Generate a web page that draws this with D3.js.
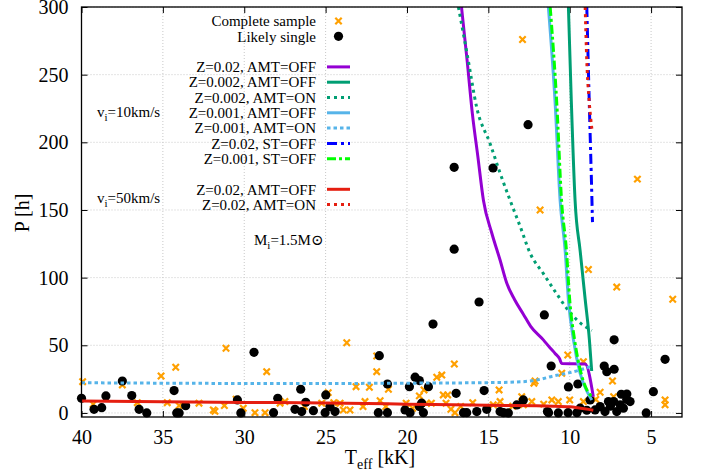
<!DOCTYPE html>
<html><head><meta charset="utf-8">
<script src="https://cdn.jsdelivr.net/npm/d3@7"></script>
<style>html,body{margin:0;padding:0;background:#fff}svg{display:block}text{font-family:"Liberation Serif","DejaVu Serif",serif !important;fill:#000}</style>
</head><body><svg id="c" width="706" height="472"></svg>
<script>
// ---- data ----
const xTicks = [40, 35, 30, 25, 20, 15, 10, 5];
const yTicks = [0, 50, 100, 150, 200, 250, 300];

// Complete sample (orange crosses): Teff [kK], P [h]
const completeT = [12.9,5.84,11.82,8.85,7.11,3.67,10.12,10.49,12.13,12.2,14.34,7.37,8.13,11.1,10.7,10.0,9.16,4.14,4.14,12.33,12.95,12.85,14.28,14.7,7.3,9.16,8.4,13.5,11.6,
  39.93,39.28,37.49,36.57,35.11,34.21,34.73,34.0,32.78,31.9,31.8,31.22,31.12,30.5,30.06,29.34,28.72,28.62,27.8,27.5,26.3,25.24,24.84,24.5,24.11,23.91,23.7,23.5,23.13,22.7,22.58,22.31,21.86,21.86,21.65,21.3,21.14,20.05,19.65,19.24,18.95,18.8,18.5,18.17,17.86,17.77,17.6,17.5,17.3,17.09,17.05,15.96,16.7];
const completeP = [276,172.8,150,106,93,84,42.8,29.3,23.6,22,17,23.6,15.3,9.6,8.4,9.6,8.4,9.6,6,8.4,12,6,8.4,6,12,37.9,10,5,6.5,
  23.1,6.4,20.7,7.6,27.3,33.8,7.6,5.4,7.2,2.2,1.2,5.4,47.8,10.1,3.5,0.2,0.2,30.5,7.2,8.4,4.7,7.2,15,7.6,7.2,2.2,51.9,2.2,19.4,4.7,8.4,19,42.1,30.5,9,4.7,17.5,7.2,3.5,12.6,17,7.2,7.2,26.4,28,13.3,7.2,13.3,2.7,36.2,0.2,7.6,4.7];

// Likely single (black dots)
const singleT = [12.56,14.71,17.1,17.1,15.57,18.4,11.56,7.27,4.14,11.14,7.88,7.72,7.27,10.08,9.5,15.26,4.86,
  6.83,6.49,6.29,7.3,7.62,8.13,8.75,12.85,14.07,13.77,11.3,10.7,10.1,15.1,5.3,7.83,7.11,6.7,8.44,8.95,9.56,9.36,13.25,14.28,11.37,7.5,6.9,6.5,
  40,39.23,38.76,38.5,37.49,36.91,36.46,35.99,34.31,34.15,34.0,33.6,30.42,30.21,29.4,28.2,27.94,26.88,26.53,26.47,26.22,25.75,24.99,25.03,24.73,24.42,21.7,21.76,21.2,21.2,20.12,19.81,19.85,19.5,19.24,19.24,19.1,18.99,18.68,16.98,16.53,16.33,15.71];
const singleP = [213,181,181.5,121,82,65.7,72.4,54,39.6,34.7,34.7,30.5,32.3,19.2,21.4,16.5,15.7,
  13.8,14,8.4,8.4,8.4,4.7,9.6,9.6,0.2,0,0.2,0,0.2,2.7,0,1,1,3.5,2.2,2,0.2,3.5,5.9,1,1,5,6,10,
  10.8,2.7,3.9,12.6,23.6,12.8,2.7,0,16.5,0,0,5.4,9.6,0,44.8,0.2,10.8,2.7,17.5,1,7.9,1.7,13.3,0.2,4.7,1,42.3,0.2,0.2,21.4,2.2,0.2,19.4,26.4,23.9,4.7,7.2,0.2,19.4,14.5,0.2,0.2,1];

// Model tracks
const z002offT = [16.65,16.3,15.98,15.65,15.3,14.79,14.28,13.87,13.4,12.85,12.4,11.62,11.2,10.9,10.62,10.49,9.05,8.55];
const z002offP = [300,260,221,190,157,133,113,96,84,73,64,54,48,44,40,36.5,36.2,12];
const z0002offT = [10.08,9.9,9.67,9.36,9.05,8.79,8.65];
const z0002offP = [300,230,157,120,84,54,31];
const z0002onT = [16.84,16.3,15.7,14.89,14.3,13.66,13.05,12.43,11.62,10.8,9.97,9.3,8.64];
const z0002onP = [300,265,225,199,178,157,138,118,103,88,74,66,61];
const z0001offT = [11.31,10.9,10.59,10.28,10.08,9.77,9.36,8.9,8.64];
const z0001offP = [300,230,157,120,83.5,54,29.3,15,9.6];
const z0001onT = [40,35,30,25,20,15,13,12,11,10,9.36,8.75];
const z0001onP = [22.3,22,21.8,21.8,22,22.4,23,24.4,27.3,29.8,31.8,34.2];
const z002stT = [8.95,8.8,8.64,8.6];
const z002stP = [300,230,160,141];
const z0001stT = [11.2,10.8,10.5,10.2,10.0,9.7,9.3,8.9,8.62];
const z0001stP = [300,230,157,120,83.5,54,29.3,16,12];
const v50offT = [40,30,25,20,15,11,10,9.5,8.55];
const v50offP = [8.9,7.8,7.4,6.5,5.6,5,4.5,3.8,2];
const v50onT = [9.05,8.95,8.8,8.64];
const v50onP = [300,260,230,210];

const legendLabels = ["Z=0.02, AMT=OFF","Z=0.002, AMT=OFF","Z=0.002, AMT=ON","Z=0.001, AMT=OFF","Z=0.001, AMT=ON","Z=0.02, ST=OFF","Z=0.001, ST=OFF","Z=0.02, AMT=OFF","Z=0.02, AMT=ON"];

// ---- drawing ----
const svg = d3.select("#c");
const L = 81.5, R = 682, T = 7, B = 417;
const x = d3.scaleLinear().domain([40, 3.1]).range([L, R]);
const y = d3.scaleLinear().domain([-3, 300]).range([B, T]);

// grid
const grid = svg.append("g").attr("stroke", "#c8c8c8").attr("stroke-width", 1).attr("stroke-dasharray", "1,2");
xTicks.forEach(t => grid.append("line").attr("x1", x(t)).attr("x2", x(t)).attr("y1", T).attr("y2", B));
yTicks.forEach(t => grid.append("line").attr("x1", L).attr("x2", R).attr("y1", y(t)).attr("y2", y(t)));

// axes with mirrored inward ticks
const ax = svg.append("g");
ax.append("g").attr("transform", `translate(0,${B})`).call(d3.axisBottom(x).tickValues(xTicks).tickSize(-6).tickPadding(11).tickFormat(d3.format("d")))
  .call(g => { g.select(".domain").remove(); g.attr("font-family", null).attr("font-size", null); g.selectAll("text").style("font-size", "20px").attr("dy", "0.8em"); });
ax.append("g").attr("transform", `translate(0,${T})`).call(d3.axisTop(x).tickValues(xTicks).tickSize(-6).tickFormat(""))
  .call(g => g.select(".domain").remove());
ax.append("g").attr("transform", `translate(${L},0)`).call(d3.axisLeft(y).tickValues(yTicks).tickSize(-6).tickPadding(13).tickFormat(d3.format("d")))
  .call(g => { g.select(".domain").remove(); g.attr("font-family", null).attr("font-size", null); g.selectAll("text").style("font-size", "20px"); });
ax.append("g").attr("transform", `translate(${R},0)`).call(d3.axisRight(y).tickValues(yTicks).tickSize(-6).tickFormat(""))
  .call(g => g.select(".domain").remove());
ax.selectAll(".tick line").attr("stroke", "#000");

// points
const cross = (g, cx, cy, s) => g.append("path").attr("d", `M${cx-s},${cy-s}L${cx+s},${cy+s}M${cx-s},${cy+s}L${cx+s},${cy-s}`);
const gc = svg.append("g").attr("stroke", "#ffa000").attr("stroke-width", 2.2).attr("fill", "none");
completeT.forEach((t, i) => cross(gc, x(t), y(completeP[i]), 3.2));
const gs = svg.append("g");
singleT.forEach((t, i) => gs.append("circle").attr("cx", x(t)).attr("cy", y(singleP[i])).attr("r", 4.6).attr("fill", "#000"));

// tracks
const styles = [
  {T: z002offT, P: z002offP, c: "#9400d3", d: null},
  {T: z0002offT, P: z0002offP, c: "#009e73", d: null},
  {T: z0002onT, P: z0002onP, c: "#009e73", d: "3,4"},
  {T: z0001offT, P: z0001offP, c: "#56b4e9", d: null},
  {T: z0001onT, P: z0001onP, c: "#56b4e9", d: "3.5,3"},
  {T: z002stT, P: z002stP, c: "#0000ff", d: "10,4,3,4"},
  {T: z0001stT, P: z0001stP, c: "#00ff00", d: "9,3,3,3"},
  {T: v50offT, P: v50offP, c: "#e51e10", d: null},
  {T: v50onT, P: v50onP, c: "#e51e10", d: "3,4"}
];
const line = d3.line().x(d => x(d[0])).y(d => y(d[1])).curve(d3.curveMonotoneX);
svg.append("clipPath").attr("id", "pc").append("rect").attr("x", L).attr("y", T).attr("width", R - L).attr("height", B - T);
const gl = svg.append("g").attr("clip-path", "url(#pc)");
styles.forEach(s => {
  gl.append("path").attr("d", line(s.T.map((t, i) => [t, s.P[i]]))).attr("fill", "none")
    .attr("stroke", s.c).attr("stroke-width", 3).attr("stroke-dasharray", s.d);
});

// border
svg.append("rect").attr("x", L).attr("y", T).attr("width", R - L).attr("height", B - T).attr("fill", "none").attr("stroke", "#000").attr("stroke-width", 1.3);

// legend
const lg = svg.append("g").attr("font-size", 15);
const rowY = i => 21 + 15.3 * i;
const tx = 316, lx1 = 327, lx2 = 350;
lg.append("text").attr("x", tx).attr("y", rowY(0)).attr("dy", "0.35em").attr("text-anchor", "end").text("Complete sample");
cross(lg.append("g").attr("stroke", "#ffa000").attr("stroke-width", 2.2), 338.5, rowY(0), 3.2);
lg.append("text").attr("x", tx).attr("y", rowY(1)).attr("dy", "0.35em").attr("text-anchor", "end").text("Likely single");
lg.append("circle").attr("cx", 338.5).attr("cy", rowY(1)).attr("r", 4.6).attr("fill", "#000");
const rows = [3, 4, 5, 6, 7, 8, 9, 11, 12];
legendLabels.forEach((lab, i) => {
  const yy = rowY(rows[i]);
  lg.append("text").attr("x", tx).attr("y", yy).attr("dy", "0.35em").attr("text-anchor", "end").text(lab);
  lg.append("line").attr("x1", lx1).attr("x2", lx2).attr("y1", yy).attr("y2", yy)
    .attr("stroke", styles[i].c).attr("stroke-width", 3).attr("stroke-dasharray", styles[i].d);
});

// annotations
const ann = (xx, yy, main, sub, rest) => {
  const t = svg.append("text").attr("x", xx).attr("y", yy).attr("font-size", 15);
  t.append("tspan").text(main);
  t.append("tspan").attr("font-size", 11).attr("dy", 4).text(sub);
  t.append("tspan").attr("dy", -4).text(rest);
  return t;
};
ann(97, 117, "v", "i", "=10km/s");
ann(97, 203, "v", "i", "=50km/s");
ann(254, 245, "M", "i", "=1.5M\u2299");

// axis labels
const xl = svg.append("text").attr("x", 380).attr("y", 464).attr("text-anchor", "middle").attr("font-size", 20);
xl.append("tspan").text("T");
xl.append("tspan").attr("font-size", 14).attr("dy", 5).text("eff");
xl.append("tspan").attr("dy", -5).text(" [kK]");
svg.append("text").attr("transform", "translate(29,213) rotate(-90)").attr("text-anchor", "middle").attr("font-size", 20).text("P [h]");
</script></body></html>
